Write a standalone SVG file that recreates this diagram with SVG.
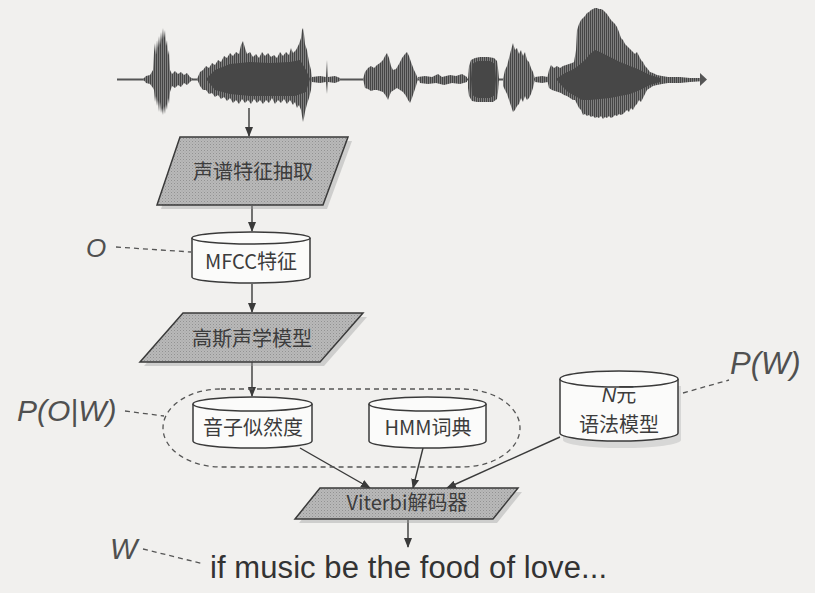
<svg xmlns="http://www.w3.org/2000/svg" width="815" height="593" viewBox="0 0 815 593">
<style>
.para{fill:url(#dots);stroke:#3a3a3a;stroke-width:1.5}
.shadow{fill:#9c9c9c;opacity:0.4}
.cyl{fill:#fbfbfa;stroke:#3a3a3a;stroke-width:1.5}
.cn{font-family:"Noto Sans CJK SC","Noto Sans",sans-serif;font-size:20px;fill:#3c3c3c;text-anchor:middle}
.lbl{font-family:"Liberation Sans",Arial,sans-serif;font-style:italic;fill:#505050}
.edge{stroke:#3a3a3a;stroke-width:1.4;fill:none;marker-end:url(#arr)}
.dash{stroke:#555;stroke-width:1.3;fill:none;stroke-dasharray:5,4}
.wave{fill:url(#stripes);stroke:none}
.core{fill:#474747;stroke:none}
</style>
<defs>
<pattern id="dots" width="3" height="3" patternUnits="userSpaceOnUse">
<rect width="3" height="3" fill="#b9b9b9"/>
<rect x="0" y="0" width="1" height="1" fill="#929292"/>
<rect x="1.5" y="1.5" width="1" height="1" fill="#a2a2a2"/>
</pattern>
<pattern id="stripes" width="2" height="4" patternUnits="userSpaceOnUse">
<rect width="2" height="4" fill="#8e8e8e"/>
<rect width="1.2" height="4" fill="#454545"/>
</pattern>
<marker id="arr" markerWidth="10" markerHeight="10" refX="9" refY="5" orient="auto" markerUnits="userSpaceOnUse">
<path d="M0,1 L10,5 L0,9 Z" fill="#3a3a3a"/>
</marker>
</defs>
<rect width="815" height="593" fill="#f1f0ee"/>

<g id="waveform">
<line x1="117" y1="79.5" x2="705" y2="79.5" stroke="#555" stroke-width="2"/>
<polygon class="wave" points="143,79 146,76 150,75 153,70 154,52 155,43 156,55 157,40 158,48 159,36 160,45 161,32 162,40 163,28 164,38 165,30 166,46 167,40 168,55 169,50 170,70 172,74 175,71 178,74 181,72 184,75 187,73 190,77 193,79 190,82 187,85 184,83 181,87 178,85 175,88 172,86 170,92 169,104 168,98 167,110 166,104 165,114 164,106 163,115 162,108 161,113 160,102 159,112 158,100 157,106 156,96 155,102 154,90 153,88 150,84 146,83"/>
<polygon class="wave" points="197,79 200,72 203,70 206,66 209,68 212,63 215,65 218,60 221,62 224,56 227,58 230,53 233,56 236,52 239,54 241,45 243,41 245,48 247,54 250,52 253,57 256,54 259,58 262,52 265,56 268,53 271,57 274,55 277,58 280,52 283,56 286,52 289,55 291,48 293,53 296,50 299,44 301,38 302,30 303,28 304,34 305,44 307,50 309,62 311,70 312,79 311,90 309,98 307,104 305,112 304,118 303,122 302,116 301,110 299,105 297,108 295,102 293,105 290,100 287,104 284,99 281,103 278,100 275,104 272,98 269,103 266,100 263,104 260,100 257,103 254,99 251,104 248,100 245,103 242,99 239,104 236,100 233,103 230,98 227,101 224,97 221,99 218,95 215,97 212,93 209,94 206,90 203,90 200,86"/>
<polygon class="core" points="206,79 215,70 230,64 250,62 270,63 290,62 300,60 306,70 310,79 306,92 295,96 270,96 250,96 230,94 215,90"/>
<polygon class="wave" points="312,77 320,76 326,77 327,60 328,77 335,76 340,78 340,81 335,83 328,82 327,94 326,82 320,83 312,82"/>
<polygon class="wave" points="363,79 365,72 368,68 371,66 374,68 377,65 380,63 383,60 385,56 387,53 389,58 391,66 393,70 396,69 399,64 402,58 405,54 407,52 409,56 411,62 414,70 416,74 418,79 416,86 414,92 412,98 410,103 408,100 406,96 403,92 400,90 397,88 394,90 391,92 389,97 388,100 386,96 383,92 380,91 377,90 374,90 371,91 368,89 365,88"/>
<polygon class="wave" points="418,77 425,76 432,77 438,74 442,77 450,75 456,76 462,74 467,77 467,82 460,84 452,83 444,85 436,83 428,84 420,83"/>
<polygon class="wave" points="468,79 469,66 471,60 475,58 480,57 488,57 494,58 497,61 498,68 499,79 498,92 497,99 493,102 485,102 477,102 472,101 469,96 468,88"/>
<polygon class="core" points="471,79 472,64 478,61 490,61 495,64 496,79 495,95 490,98 478,98 472,95"/>
<polygon class="wave" points="503,79 505,70 507,66 509,58 511,50 513,43 515,50 517,48 519,54 521,50 523,56 525,52 527,60 529,62 531,68 533,72 535,79 533,88 531,94 529,98 527,100 525,96 523,102 521,98 519,104 517,106 515,110 513,112 511,106 509,100 507,94 505,90 503,86"/>
<polygon class="wave" points="535,77 542,76 548,77 548,82 542,83 535,82"/>
<polygon class="wave" points="547,79 549,70 551,65 554,68 557,66 560,68 563,66 566,65 569,64 572,63 574,62 576,50 577,30 579,24 581,20 583,18 585,16 587,13 589,12 591,10 593,9 595,8 597,8 599,9 601,9 603,10 605,12 607,14 609,17 611,20 613,22 615,24 617,27 619,32 621,38 623,40 625,44 627,46 629,48 631,50 633,52 635,54 637,52 639,56 641,60 643,62 645,66 647,68 650,72 653,73 657,75 662,76 668,77 680,77 690,78 700,78 705,79 705,81 690,82 680,83 668,83 662,84 657,85 653,86 650,88 647,90 645,94 643,98 641,102 639,100 637,104 635,106 633,110 631,108 629,112 627,110 625,112 623,114 621,115 619,114 617,116 615,115 613,117 611,118 609,116 607,118 605,117 603,119 601,116 599,118 597,117 595,118 593,116 591,117 589,115 587,116 585,114 583,115 581,110 579,108 577,104 575,100 573,100 570,98 567,96 564,95 561,93 558,92 555,91 552,90 549,88"/>
<polygon class="core" points="556,79 565,73 572,70 578,66 585,60 590,54 595,50 600,52 606,55 612,58 620,62 630,66 640,70 650,75 660,78 660,82 650,85 640,90 630,94 620,96 610,98 600,99 590,100 582,100 575,96 568,92 562,86"/>
<polygon fill="#555" points="700,73 707,79.5 700,86"/>
</g>

<g id="connectors">
<line class="edge" x1="249" y1="108" x2="249" y2="136"/>
<line class="edge" x1="252" y1="206" x2="252" y2="231"/>
<line class="edge" x1="252" y1="284" x2="252" y2="312"/>
<line class="edge" x1="252" y1="362" x2="252" y2="396"/>
<line class="edge" x1="300" y1="448" x2="370" y2="488"/>
<line class="edge" x1="423" y1="448" x2="413" y2="488"/>
<line class="edge" x1="560" y1="437" x2="447" y2="488"/>
<line class="edge" x1="408" y1="520" x2="408" y2="547"/>
<rect class="dash" x="163" y="389" width="357" height="78" rx="58" ry="39"/>
<line class="dash" x1="116" y1="247" x2="191" y2="252"/>
<line class="dash" x1="125" y1="411" x2="164" y2="416"/>
<line class="dash" x1="683" y1="393" x2="729" y2="380"/>
<line class="dash" x1="143" y1="549" x2="204" y2="564"/>
</g>

<g id="n1">
<polygon class="shadow" points="184,141 352,141 327,209 161,209"/>
<polygon class="para" points="180,137 348,137 323,205 157,205"/>
<text class="cn" x="253" y="179">声谱特征抽取</text>
</g>

<g id="n2">
<path class="cyl" d="M192,238 A59,6 0 0 1 310,238 V277 A59,6 0 0 1 192,277 Z"/>
<path class="cyl" fill="none" d="M192,238 A59,6 0 0 0 310,238"/>
<text class="cn" x="251" y="269">MFCC特征</text>
</g>

<g id="n3">
<polygon class="shadow" points="187,317 367,317 324,366 144,366"/>
<polygon class="para" points="183,313 363,313 320,362 140,362"/>
<text class="cn" x="252" y="346">高斯声学模型</text>
</g>

<g id="n4">
<path class="cyl" d="M193,404 A59.5,7 0 0 1 312,404 V441 A59.5,7 0 0 1 193,441 Z"/>
<path class="cyl" fill="none" d="M193,404 A59.5,7 0 0 0 312,404"/>
<text class="cn" x="253" y="435">音子似然度</text>
</g>

<g id="n5">
<path class="cyl" d="M369,404 A58.5,7 0 0 1 486,404 V441 A58.5,7 0 0 1 369,441 Z"/>
<path class="cyl" fill="none" d="M369,404 A58.5,7 0 0 0 486,404"/>
<text class="cn" x="428" y="435">HMM词典</text>
</g>

<g id="n6">
<path d="M563,386 V440 A59,8 0 0 0 681,440 V386 Z" fill="#bdbdbd" opacity="0.5"/>
<path class="cyl" d="M560,379 A59,8 0 0 1 678,379 V433 A59,8 0 0 1 560,433 Z"/>
<path class="cyl" fill="none" d="M560,379 A59,8 0 0 0 678,379"/>
<text class="cn" x="619" y="402"><tspan font-family="Liberation Sans,Arial,sans-serif" font-style="italic">N</tspan>元</text>
<text class="cn" x="619" y="432">语法模型</text>
</g>

<g id="n7">
<polygon class="shadow" points="324,492 522,492 497,523 299,523"/>
<polygon class="para" points="320,488 518,488 493,519 295,519"/>
<text class="cn" x="407" y="510" font-size="18">Viterbi解码器</text>
</g>

<g id="labels">
<text class="lbl" x="86" y="257" font-size="26">O</text>
<text class="lbl" x="17" y="421" font-size="30">P(O|W)</text>
<text class="lbl" x="730" y="374" font-size="31">P(W)</text>
<text class="lbl" x="110" y="559" font-size="29">W</text>
<text x="210" y="578" font-family="Liberation Sans,Arial,sans-serif" font-size="31" fill="#333" textLength="397" lengthAdjust="spacing">if music be the food of love...</text>
</g>
</svg>
